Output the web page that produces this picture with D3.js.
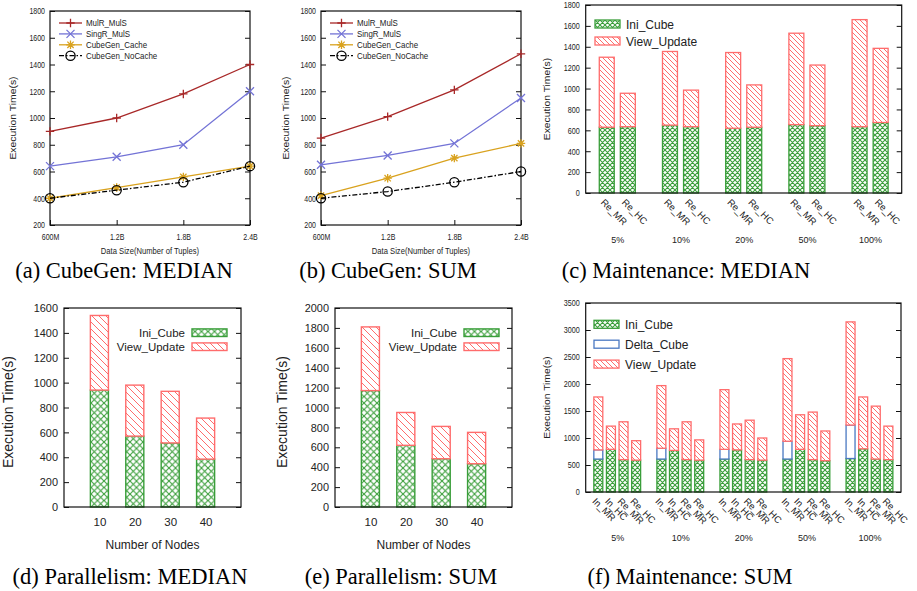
<!DOCTYPE html>
<html lang="en">
<head>
<meta charset="UTF-8">
<title>CubeGen experiments</title>
<script src="https://d3js.org/d3.v7.min.js"></script>
<style>
  body { margin: 0; background: #fff; }
  svg text { font-family: "Liberation Sans", Arial, sans-serif; fill: #222; }
  svg text.cap { font-family: "Liberation Serif", "Times New Roman", serif; font-size: 22.5px; fill: #000; }
  .frame { fill: none; stroke: #111; stroke-width: 1.2; }
  .tick line { stroke: #111; stroke-width: 1; }
</style>
</head>
<body>
<svg id="fig" width="917" height="591"></svg>
<script>
// ---------- data ----------
const sizes = [0.6, 1.2, 1.8, 2.4];
const sizeLabels = ["600M", "1.2B", "1.8B", "2.4B"];
const lineNames = ["MulR_MulS", "SingR_MulS", "CubeGen_Cache", "CubeGen_NoCache"];

// (a) CubeGen: MEDIAN
const medMulR = [900, 1000, 1180, 1400];
const medSingR = [640, 710, 800, 1200];
const medCache = [400, 480, 560, 640];
const medNoCache = [400, 460, 520, 640];

// (b) CubeGen: SUM
const sumMulR = [850, 1010, 1210, 1480];
const sumSingR = [650, 720, 810, 1150];
const sumCache = [420, 550, 700, 810];
const sumNoCache = [400, 450, 520, 600];

const ratios = ["5%", "10%", "20%", "50%", "100%"];

// (c) Maintenance: MEDIAN
const medBarNames = ["Re_MR", "Re_HC"];
const medIniReMR = [630, 650, 620, 655, 635];
const medViewReMR = [670, 705, 725, 875, 1025];
const medIniReHC = [635, 635, 630, 645, 675];
const medViewReHC = [320, 350, 405, 580, 710];

// (f) Maintenance: SUM
const sumBarNames = ["In_MR", "In_HC", "Re_MR", "Re_HC"];
const sumIniInMR = [610, 610, 610, 610, 620];
const sumDeltaInMR = [170, 200, 180, 330, 620];
const sumViewInMR = [980, 1160, 1105, 1530, 1910];
const sumIniInHC = [790, 770, 780, 790, 800];
const sumDeltaInHC = [0, 0, 0, 0, 0];
const sumViewInHC = [430, 400, 480, 640, 960];
const sumIniReMR = [600, 600, 600, 600, 610];
const sumViewReMR = [700, 700, 730, 880, 980];
const sumIniReHC = [590, 590, 590, 580, 600];
const sumViewReHC = [360, 375, 410, 550, 620];

// (d)/(e) Parallelism
const nodes = [10, 20, 30, 40];
const parMedIni = [940, 570, 515, 385];
const parMedView = [600, 410, 415, 330];
const parSumIni = [1170, 620, 485, 435];
const parSumView = [640, 330, 325, 315];

// ---------- setup ----------
const GREEN = "#3a9e3a", RED = "#ff6c6c", BLUE = "#4a78c2";
const svg = d3.select("#fig");
const defs = svg.append("defs");

function crossPat(id, s) {
  const p = defs.append("pattern").attr("id", id).attr("patternUnits", "userSpaceOnUse")
    .attr("width", s).attr("height", s);
  p.append("rect").attr("width", s).attr("height", s).attr("fill", "#fff");
  p.append("path").attr("d", `M0,0L${s},${s}M${s},0L0,${s}`)
    .attr("stroke", GREEN).attr("stroke-width", 1.1).attr("stroke-linecap", "square");
}
function hatchPat(id, s) {
  const p = defs.append("pattern").attr("id", id).attr("patternUnits", "userSpaceOnUse")
    .attr("width", s).attr("height", s);
  p.append("rect").attr("width", s).attr("height", s).attr("fill", "#fff");
  p.append("path").attr("d", `M0,0L${s},${s}M-1,${s - 1}L1,${s + 1}M${s - 1},-1L${s + 1},1`)
    .attr("stroke", RED).attr("stroke-width", 1);
}
crossPat("xh5", 5); hatchPat("hh5", 5);
crossPat("xh6", 6.5); hatchPat("hh6", 7);

// squeeze text horizontally, keeping its anchor point
function squish(sel, sx) {
  sel.each(function () {
    const t = d3.select(this);
    const x = +t.attr("x") || 0;
    t.attr("x", x / sx).attr("transform", `scale(${sx},1)`);
  });
}

function yLabel(g, x, y, size, sx) {
  g.append("text").attr("text-anchor", "middle")
    .attr("transform", `translate(${x},${y}) scale(${sx},1) rotate(-90)`)
    .attr("dy", "0.35em").style("font-size", size + "px").text("Execution Time(s)");
}

function caption(x, y, txt) {
  svg.append("text").attr("class", "cap").attr("x", x).attr("y", y)
    .attr("text-anchor", "middle").text(txt);
}

function frame(g, p) {
  g.append("rect").attr("class", "frame").attr("x", p.L).attr("y", p.T)
    .attr("width", p.R - p.L).attr("height", p.B - p.T);
}

function yAxes(g, p, y, ticks, size, sx, pad) {
  const left = g.append("g").attr("transform", `translate(${p.L},0)`)
    .call(d3.axisLeft(y).tickValues(ticks).tickFormat(d3.format("d")).tickSize(-5).tickPadding(pad));
  left.selectAll("text").style("font-size", size + "px").style("fill", "#222");
  if (sx !== 1) squish(left.selectAll("text"), sx);
  g.append("g").attr("transform", `translate(${p.R},0)`)
    .call(d3.axisRight(y).tickValues(ticks).tickSize(-5).tickFormat(""));
  g.selectAll(".domain").remove();
}

// ---------- markers ----------
function markerPath(type, s) {
  if (type === "plus") return `M${-s},0H${s}M0,${-s}V${s}`;
  if (type === "cross") return `M${-s},${-s}L${s},${s}M${-s},${s}L${s},${-s}`;
  if (type === "star") {
    const d = s * 0.75;
    return `M${-s},0H${s}M0,${-s}V${s}M${-d},${-d}L${d},${d}M${-d},${d}L${d},${-d}`;
  }
  return "";
}
function drawMarker(g, type, color, cx, cy) {
  if (type === "circle") {
    g.append("circle").attr("cx", cx).attr("cy", cy).attr("r", 4.6)
      .attr("fill", "none").attr("stroke", color).attr("stroke-width", 1.3);
  } else {
    const s = type === "cross" ? 4 : 4.2;
    g.append("path").attr("d", markerPath(type, s)).attr("transform", `translate(${cx},${cy})`)
      .attr("fill", "none").attr("stroke", color).attr("stroke-width", 1.3);
  }
}

// ---------- line panels (a), (b) ----------
function linePanel(p, series) {
  const g = svg.append("g");
  const x = d3.scaleLinear().domain([0.6, 2.4]).range([p.L, p.R]);
  const y = d3.scaleLinear().domain([200, 1800]).range([p.B, p.T]);

  yAxes(g, p, y, d3.range(200, 1801, 200), 9, 0.78, 5);
  const bx = g.append("g").attr("transform", `translate(0,${p.B})`)
    .call(d3.axisBottom(x).tickValues(sizes).tickFormat((d, i) => sizeLabels[i]).tickSize(-5).tickPadding(9));
  bx.select(".domain").remove();
  bx.selectAll("text").style("font-size", "9px").style("fill", "#222");
  squish(bx.selectAll("text"), 0.78);
  frame(g, p);

  const line = d3.line().x((d, i) => x(sizes[i])).y(d => y(d));
  series.forEach((s, k) => {
    g.append("path").attr("d", line(s.vals)).attr("fill", "none")
      .attr("stroke", s.color).attr("stroke-width", 1.3)
      .attr("stroke-dasharray", s.dash || null);
    s.vals.forEach((v, i) => drawMarker(g, s.marker, s.color, x(sizes[i]), y(v)));

    // legend entry
    const ly = p.T + 12 + k * 10.9;
    g.append("line").attr("x1", p.L + 9).attr("x2", p.L + 32).attr("y1", ly).attr("y2", ly)
      .attr("stroke", s.color).attr("stroke-width", 1.3).attr("stroke-dasharray", s.dash || null);
    drawMarker(g, s.marker, s.color, p.L + 20.5, ly);
    const t = g.append("text").attr("x", p.L + 36).attr("y", ly + 3.2)
      .style("font-size", "9px").text(s.name);
    squish(t, 0.88);
  });

  g.append("text").attr("x", (p.L + p.R) / 2).attr("y", p.B + 29)
    .attr("text-anchor", "middle").style("font-size", "9.3px")
    .text("Data Size(Number of Tuples)").call(squish, 0.82);
  yLabel(g, p.yl, (p.T + p.B) / 2, 10.4, 0.8);
}

const lineStyles = [
  { color: "#a82828", marker: "plus" },
  { color: "#7373d6", marker: "cross" },
  { color: "#d9a21e", marker: "star" },
  { color: "#000", marker: "circle", dash: "5,2,1.5,2" }
];
function makeSeries(arrs) {
  return arrs.map((vals, i) => Object.assign({ name: lineNames[i], vals }, lineStyles[i]));
}

linePanel({ L: 50, R: 250, T: 11, B: 225, yl: 13 },
  makeSeries([medMulR, medSingR, medCache, medNoCache]));
linePanel({ L: 321, R: 521, T: 11, B: 225, yl: 286 },
  makeSeries([sumMulR, sumSingR, sumCache, sumNoCache]));

// ---------- legend helper for bars ----------
const layerStyle = {
  ini: { name: "Ini_Cube", stroke: GREEN },
  delta: { name: "Delta_Cube", stroke: BLUE },
  view: { name: "View_Update", stroke: RED }
};
function fillFor(key, big) {
  if (key === "ini") return big ? "url(#xh6)" : "url(#xh5)";
  if (key === "view") return big ? "url(#hh6)" : "url(#hh5)";
  return "#fff";
}

// ---------- maintenance panels (c), (f) ----------
function maintPanel(p, rows, keys, groupSize) {
  const g = svg.append("g");
  const x = d3.scaleLinear().domain([-1, ratios.length * groupSize - 1]).range([p.L, p.R]);
  const y = d3.scaleLinear().domain([0, p.max]).range([p.B, p.T]);
  const bw = (x(1) - x(0)) * 0.71;

  yAxes(g, p, y, d3.range(0, p.max + 1, p.step), 9, 0.8, 6);

  const stack = d3.stack().keys(keys)(rows);
  stack.forEach(layer => {
    const st = layerStyle[layer.key];
    g.append("g").selectAll("rect").data(layer.filter(d => d[1] > d[0])).join("rect")
      .attr("x", d => x(d.data.slot) - bw / 2).attr("width", bw)
      .attr("y", d => y(d[1])).attr("height", d => y(d[0]) - y(d[1]))
      .attr("fill", fillFor(layer.key, false)).attr("stroke", st.stroke).attr("stroke-width", 1.3);
  });

  // bar names (rotated)
  const bx = g.append("g").attr("transform", `translate(0,${p.B})`)
    .call(d3.axisBottom(x).tickValues(rows.map(r => r.slot)).tickFormat((d, i) => rows[i].name).tickSize(0));
  bx.select(".domain").remove();
  bx.selectAll("text").attr("x", null).attr("y", null).attr("dy", null)
    .attr("text-anchor", "start").attr("transform", "translate(-7,10) rotate(45)")
    .style("font-size", "9.5px").style("fill", "#222");

  // group labels
  const centers = ratios.map((r, k) => k * groupSize + (groupSize - 2) / 2);
  const gx = g.append("g").attr("transform", `translate(0,${p.B})`)
    .call(d3.axisBottom(x).tickValues(centers).tickFormat((d, i) => ratios[i]).tickSize(0).tickPadding(p.gpad));
  gx.select(".domain").remove();
  gx.selectAll("text").style("font-size", "9px").style("fill", "#222");

  frame(g, p);

  // legend
  keys.forEach((k, i) => {
    const ly = p.legY + i * p.legStep;
    g.append("rect").attr("x", p.legX).attr("y", ly - 4).attr("width", 25).attr("height", 8)
      .attr("fill", fillFor(k, false)).attr("stroke", layerStyle[k].stroke).attr("stroke-width", 1.3);
    g.append("text").attr("x", p.legX + 31).attr("y", ly + 4.5)
      .style("font-size", "12px").text(layerStyle[k].name);
  });

  yLabel(g, p.yl, (p.T + p.B) / 2, 10.3, 0.8);
}

const medRows = [];
ratios.forEach((r, k) => {
  medRows.push({ slot: k * 3, name: medBarNames[0], ini: medIniReMR[k], view: medViewReMR[k] });
  medRows.push({ slot: k * 3 + 1, name: medBarNames[1], ini: medIniReHC[k], view: medViewReHC[k] });
});
maintPanel({ L: 585.7, R: 901.7, T: 5, B: 193, max: 1800, step: 200, yl: 547,
  legX: 595, legY: 24, legStep: 17, gpad: 44 }, medRows, ["ini", "view"], 3);

const sumIni = [sumIniInMR, sumIniInHC, sumIniReMR, sumIniReHC];
const sumDelta = [sumDeltaInMR, sumDeltaInHC, null, null];
const sumView = [sumViewInMR, sumViewInHC, sumViewReMR, sumViewReHC];
const sumRows = [];
ratios.forEach((r, k) => {
  sumBarNames.forEach((n, j) => {
    sumRows.push({ slot: k * 5 + j, name: n, ini: sumIni[j][k],
      delta: sumDelta[j] ? sumDelta[j][k] : 0, view: sumView[j][k] });
  });
});
maintPanel({ L: 585.7, R: 901, T: 303, B: 492, max: 3500, step: 500, yl: 547,
  legX: 594, legY: 324.3, legStep: 19.9, gpad: 43 }, sumRows, ["ini", "delta", "view"], 5);

// ---------- parallelism panels (d), (e) ----------
function parPanel(p, ini, view) {
  const g = svg.append("g");
  const x = d3.scaleLinear().domain([0, 5]).range([p.L, p.R]);
  const y = d3.scaleLinear().domain([0, p.max]).range([p.B, p.T]);
  const bw = (x(1) - x(0)) * 0.51;

  yAxes(g, p, y, d3.range(0, p.max + 1, 200), 11.5, 0.95, 6);

  const rows = nodes.map((n, i) => ({ slot: i + 1, ini: ini[i], view: view[i] }));
  d3.stack().keys(["ini", "view"])(rows).forEach(layer => {
    g.append("g").selectAll("rect").data(layer).join("rect")
      .attr("x", d => x(d.data.slot) - bw / 2).attr("width", bw)
      .attr("y", d => y(d[1])).attr("height", d => y(d[0]) - y(d[1]))
      .attr("fill", fillFor(layer.key, true)).attr("stroke", layerStyle[layer.key].stroke)
      .attr("stroke-width", 1.4);
  });

  const bx = g.append("g").attr("transform", `translate(0,${p.B})`)
    .call(d3.axisBottom(x).tickValues([1, 2, 3, 4]).tickFormat((d, i) => nodes[i]).tickSize(0).tickPadding(11));
  bx.select(".domain").remove();
  bx.selectAll("text").style("font-size", "11.5px").style("fill", "#222");
  frame(g, p);

  ["ini", "view"].forEach((k, i) => {
    const ly = p.legY + i * 14;
    g.append("rect").attr("x", p.legX).attr("y", ly - 3.8).attr("width", 35).attr("height", 7.6)
      .attr("fill", fillFor(k, true)).attr("stroke", layerStyle[k].stroke).attr("stroke-width", 1.4);
    g.append("text").attr("x", p.legX - 7).attr("y", ly + 4.2).attr("text-anchor", "end")
      .style("font-size", "11.5px").text(layerStyle[k].name);
  });

  g.append("text").attr("x", (p.L + p.R) / 2).attr("y", p.B + 42).attr("text-anchor", "middle")
    .style("font-size", "12px").text("Number of Nodes");
  yLabel(g, p.yl, 412, 14, 1);
}

parPanel({ L: 64, R: 241, T: 308, B: 507, max: 1600, yl: 8, legX: 192, legY: 332.7 },
  parMedIni, parMedView);
parPanel({ L: 335, R: 512, T: 308, B: 507, max: 2000, yl: 282, legX: 464, legY: 332.7 },
  parSumIni, parSumView);

// ---------- captions ----------
caption(124, 278, "(a) CubeGen: MEDIAN");
caption(388, 278, "(b) CubeGen: SUM");
caption(686, 278, "(c) Maintenance: MEDIAN");
caption(130, 584, "(d) Parallelism: MEDIAN");
caption(401, 584, "(e) Parallelism: SUM");
caption(690, 584, "(f) Maintenance: SUM");
</script>
</body>
</html>
